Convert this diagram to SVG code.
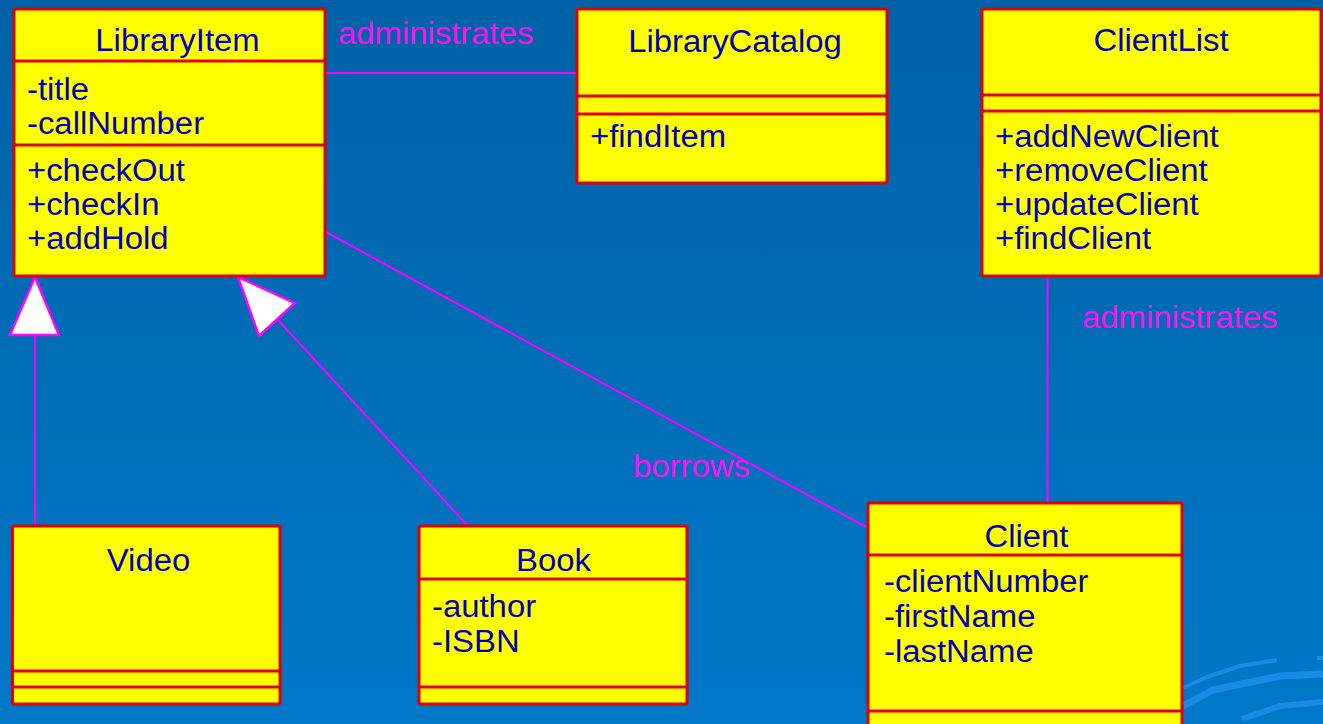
<svg xmlns="http://www.w3.org/2000/svg" width="1323" height="724" viewBox="0 0 1323 724">
  <defs>
    <linearGradient id="bg" x1="0" y1="0" x2="0" y2="1">
      <stop offset="0" stop-color="#0062a6"/>
      <stop offset="1" stop-color="#0078c8"/>
    </linearGradient>
    <style>
      .box{fill:#ffff00;stroke:#e00000;stroke-width:3}
      .div{stroke:#e00000;stroke-width:3}
      text{font-family:"Liberation Sans",Arial,sans-serif;font-size:31px;transform-box:fill-box;transform-origin:0 0;transform:scaleX(1.06)}
      .t{fill:#0000bb}
      .c{text-anchor:middle;transform-origin:50% 0}
      .lbl{fill:#ff10f0}
      .ln{stroke:#ff00ff;stroke-width:2;fill:none}
      .tri{fill:#ffffff;stroke:#ff00ff;stroke-width:2.5;stroke-linejoin:miter}
      .sw{stroke:#1a8ae4;fill:none;stroke-linecap:butt;stroke-linejoin:round}
    </style>
  </defs>

  <!-- background -->
  <rect width="1323" height="724" fill="url(#bg)"/>
  <!-- decorative streaks, lower right -->
  <g id="swirl">
    <path class="sw" stroke-width="4" d="M1183,688 L1207,677 L1240,666 L1277,660"/>
    <path class="sw" stroke-width="7" d="M1183,706 L1213,690 L1280,676 L1323,674"/>
    <path class="sw" stroke-width="6" d="M1242,719 L1280,706 L1323,702"/>
    <path class="sw" stroke-width="4" d="M1317,658 L1323,658"/>
  </g>

  <!-- connectors -->
  <g id="connectors">
    <line class="ln" x1="325" y1="73" x2="577" y2="73"/>
    <line class="ln" x1="326" y1="232" x2="868" y2="528"/>
    <line class="ln" x1="1047.5" y1="276" x2="1047.5" y2="503"/>
    <line class="ln" x1="35" y1="335" x2="35" y2="526"/>
    <polygon class="tri" points="35,277 10,335 59,335"/>
    <line class="ln" x1="277" y1="319" x2="468" y2="526"/>
    <polygon class="tri" points="238,277 295,303 259,336"/>
    <text class="lbl" x="338" y="44">administrates</text>
    <text class="lbl" x="633" y="477">borrows</text>
    <text class="lbl" x="1082" y="328">administrates</text>
  </g>

  <g id="LibraryItem">
    <rect class="box" x="14" y="9" width="311" height="267" rx="2"/>
    <line class="div" x1="14" y1="61" x2="325" y2="61"/>
    <line class="div" x1="14" y1="145" x2="325" y2="145"/>
    <text class="t c" x="177.5" y="51">LibraryItem</text>
    <text class="t" x="27" y="100">-title</text>
    <text class="t" x="27" y="134">-callNumber</text>
    <text class="t" x="27" y="181">+checkOut</text>
    <text class="t" x="27" y="215">+checkIn</text>
    <text class="t" x="27" y="249">+addHold</text>
  </g>

  <g id="LibraryCatalog">
    <rect class="box" x="577" y="9" width="310" height="174" rx="2"/>
    <line class="div" x1="577" y1="96" x2="887" y2="96"/>
    <line class="div" x1="577" y1="114" x2="887" y2="114"/>
    <text class="t c" x="735" y="52">LibraryCatalog</text>
    <text class="t" x="590" y="147">+findItem</text>
  </g>

  <g id="ClientList">
    <rect class="box" x="982" y="9" width="339" height="267" rx="2"/>
    <line class="div" x1="982" y1="95" x2="1321" y2="95"/>
    <line class="div" x1="982" y1="111" x2="1321" y2="111"/>
    <text class="t c" x="1161" y="51">ClientList</text>
    <text class="t" x="995" y="147">+addNewClient</text>
    <text class="t" x="995" y="181">+removeClient</text>
    <text class="t" x="995" y="215">+updateClient</text>
    <text class="t" x="995" y="249">+findClient</text>
  </g>

  <g id="Video">
    <rect class="box" x="12.5" y="526" width="267.5" height="178" rx="2"/>
    <line class="div" x1="12.5" y1="671" x2="280" y2="671"/>
    <line class="div" x1="12.5" y1="687" x2="280" y2="687"/>
    <text class="t c" x="148.5" y="571">Video</text>
  </g>

  <g id="Book">
    <rect class="box" x="419" y="526" width="268" height="178" rx="2"/>
    <line class="div" x1="419" y1="579" x2="687" y2="579"/>
    <line class="div" x1="419" y1="687" x2="687" y2="687"/>
    <text class="t c" x="553.5" y="571">Book</text>
    <text class="t" x="432" y="617">-author</text>
    <text class="t" x="432" y="652">-ISBN</text>
  </g>

  <g id="Client">
    <rect class="box" x="868" y="503" width="314" height="240" rx="2"/>
    <line class="div" x1="868" y1="555" x2="1182" y2="555"/>
    <line class="div" x1="868" y1="711" x2="1182" y2="711"/>
    <text class="t c" x="1026.5" y="547">Client</text>
    <text class="t" x="884" y="592">-clientNumber</text>
    <text class="t" x="884" y="627">-firstName</text>
    <text class="t" x="884" y="662">-lastName</text>
  </g>
</svg>
